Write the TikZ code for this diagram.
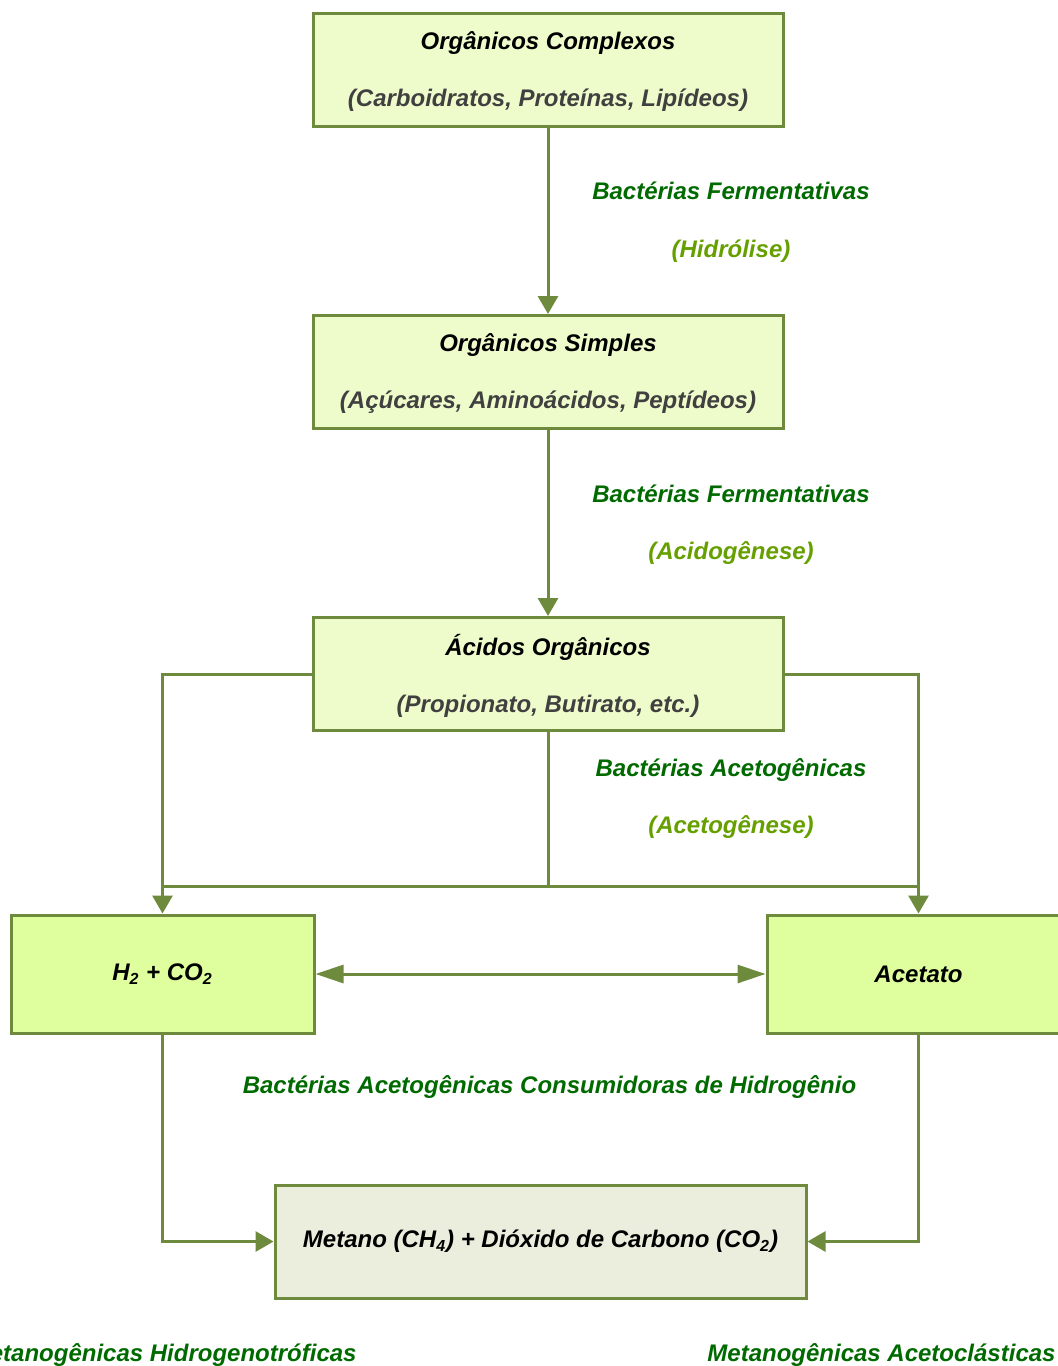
\documentclass[tikz,border=0pt]{standalone}
\usepackage{fontspec}
\setmainfont{Liberation Sans}
\usetikzlibrary{arrows.meta}
\definecolor{edge}{HTML}{6E8B3D}
\definecolor{fillA}{HTML}{EEFCCB}
\definecolor{fillB}{HTML}{DFFF9F}
\definecolor{fillC}{HTML}{EBEEDD}
\definecolor{dgreen}{HTML}{006A00}
\definecolor{lgreen}{HTML}{66A000}
\definecolor{subgrey}{HTML}{404040}
\begin{document}
\begin{tikzpicture}[x=0.5pt,y=-0.5pt,
  every node/.style={font=\fontsize{12}{14}\selectfont\bfseries\itshape, inner sep=0pt},
  topbox/.style={draw=edge, line width=1.5pt, fill=fillA, minimum width=235pt, minimum height=56.5pt, align=center, text depth=0.5pt},
  midbox/.style={draw=edge, line width=1.5pt, fill=fillB, minimum width=151.5pt, minimum height=59pt},
  endbox/.style={draw=edge, line width=1.5pt, fill=fillC, minimum width=265.5pt, minimum height=56.5pt},
  conn/.style={draw=edge, line width=1.5pt},
  tip/.style={-{Triangle[length=9pt,width=10pt]}},
  dtip/.style={{Triangle[length=14pt,width=9pt]}-{Triangle[length=14pt,width=9pt]}},
  lab/.style={align=center, text=dgreen}
]
\useasboundingbox (0,0) rectangle (1057,1366);

\node[topbox] (b1) at (548,69.5) {Orgânicos Complexos\\[14.5pt]{\color{subgrey}(Carboidratos, Proteínas, Lipídeos)}};
\node[topbox] (b2) at (548,372) {Orgânicos Simples\\[14.5pt]{\color{subgrey}(Açúcares, Aminoácidos, Peptídeos)}};
\node[topbox] (b3) at (548,674) {Ácidos Orgânicos\\[14.5pt]{\color{subgrey}(Propionato, Butirato, etc.)}};

\node[midbox] (h2) at (162.5,974) {H\textsubscript{2} + CO\textsubscript{2}};
\node[midbox] (ac) at (918.5,974) {Acetato};
\node[endbox] (bot) at (540.5,1241.5) {Metano (CH\textsubscript{4}) + Dióxido de Carbono (CO\textsubscript{2})};

\node[lab] (l1) at (731,222) {Bactérias Fermentativas\\[15pt]{\color{lgreen}(Hidrólise)}};
\node[lab] (l2) at (731,524.5) {Bactérias Fermentativas\\[14.5pt]{\color{lgreen}(Acidogênese)}};
\node[lab] (l3) at (731,798.5) {Bactérias Acetogênicas\\[14.5pt]{\color{lgreen}(Acetogênese)}};
\node[lab] (l4) at (549.5,1087) {Bactérias Acetogênicas Consumidoras de Hidrogênio};
\node[lab, anchor=east] (l5) at (357,1355) {Metanogênicas Hidrogenotróficas};
\node[lab] (l6) at (881.5,1355) {Metanogênicas Acetoclásticas};

\coordinate (jm) at (548,886);

\draw[conn,tip] (b1.south) -- (b2.north);
\draw[conn,tip] (b2.south) -- (b3.north);
\draw[conn,tip] (b3.west) -| (h2.north);
\draw[conn,tip] (b3.east) -| (ac.north);
\draw[conn] (b3.south) -- (jm);
\draw[conn] (jm -| h2.north) -- (jm -| ac.north);
\draw[conn,dtip] (h2.east) -- (ac.west);
\draw[conn,tip] (h2.south) |- (bot.west);
\draw[conn,tip] (ac.south) |- (bot.east);
\end{tikzpicture}
\end{document}
